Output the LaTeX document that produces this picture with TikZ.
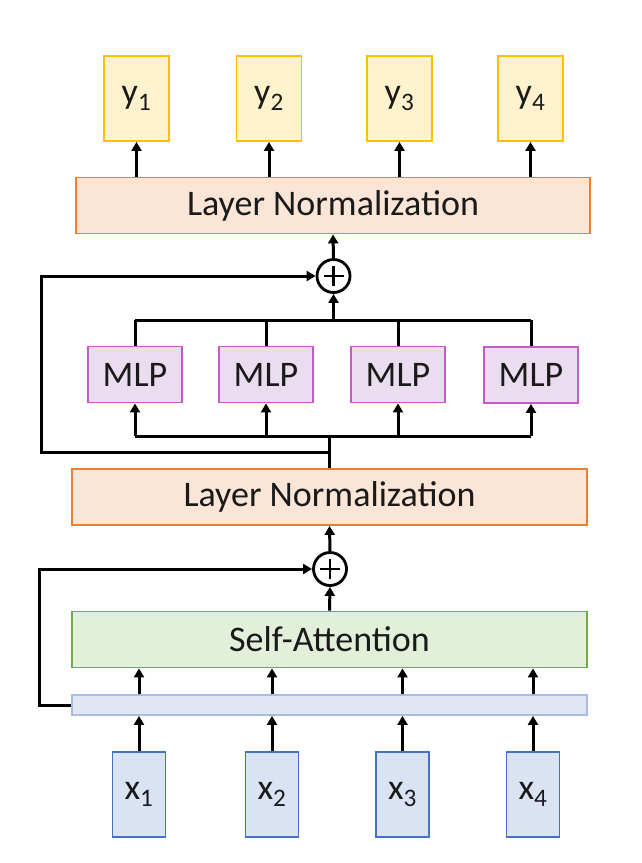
\documentclass[tikz,border=0pt]{standalone}
\usepackage{fontspec}
\setmainfont{Carlito}
\usetikzlibrary{arrows.meta}
\definecolor{yfill}{HTML}{FFF2CC}
\definecolor{yline}{HTML}{FFC000}
\definecolor{lnfill}{HTML}{FBE5D6}
\definecolor{lnline}{HTML}{ED7D31}
\definecolor{mfill}{HTML}{EBDDF0}
\definecolor{mline}{HTML}{C55AC8}
\definecolor{safill}{HTML}{E2F0D9}
\definecolor{saline}{HTML}{70AD47}
\definecolor{barfill}{HTML}{E1E6F3}
\definecolor{barline}{HTML}{A9BCE6}
\definecolor{xfill}{HTML}{DAE3F3}
\definecolor{xline}{HTML}{4472C4}
\definecolor{txt}{HTML}{1A1A1A}
\tikzset{
  box/.style={draw, line width=1.8pt, inner sep=0pt, text=txt, font=\fontsize{36}{42}\selectfont},
  ybox/.style={box, fill=yfill, draw=yline, minimum width=65pt, minimum height=85pt},
  lnbox/.style={box, fill=lnfill, draw=lnline, minimum width=514pt, minimum height=56pt},
  mlpbox/.style={box, fill=mfill, draw=mline, minimum width=94pt, minimum height=56pt},
  sabox/.style={box, fill=safill, draw=saline, minimum width=515pt, minimum height=56pt},
  barbox/.style={box, fill=barfill, draw=barline, minimum width=515pt, minimum height=20pt},
  xbox/.style={box, fill=xfill, draw=xline, minimum width=53pt, minimum height=85pt},
  sumnode/.style={circle, draw, line width=2.8pt, minimum size=33pt, inner sep=0pt,
    path picture={\draw[line width=2.8pt] ([xshift=-10pt]path picture bounding box.center) -- ([xshift=10pt]path picture bounding box.center)
      ([yshift=-10pt]path picture bounding box.center) -- ([yshift=10pt]path picture bounding box.center);}},
  conn/.style={line width=3pt},
  arr/.style={line width=3pt, -{Triangle[length=9pt,width=10pt]}},
}
\begin{document}
\begin{tikzpicture}[x=1pt,y=-1pt]
\useasboundingbox (0,0) rectangle (642,863);
% outputs
\node[ybox] (y1) at (136.5,98.5) {y\textsubscript{1}};
\node[ybox] (y2) at (269,98.5) {y\textsubscript{2}};
\node[ybox] (y3) at (399.5,98.5) {y\textsubscript{3}};
\node[ybox] (y4) at (530.5,98.5) {y\textsubscript{4}};
\node[lnbox] (ln1) at (333,205.5) {Layer Normalization};
\node[sumnode] (p1) at (333.5,276) {};
\node[mlpbox] (m1) at (135,374.5) {MLP};
\node[mlpbox] (m2) at (266,374.5) {MLP};
\node[mlpbox] (m3) at (398,374.5) {MLP};
\node[mlpbox] (m4) at (531,375) {MLP};
\node[lnbox, minimum width=515pt] (ln2) at (329.5,497) {Layer Normalization};
\node[sumnode] (p2) at (330,569) {};
\node[sabox] (sa) at (329.5,639.5) {Self-Attention};
\node[barbox] (bar) at (329.5,705) {};
\node[xbox] (x1) at (139,794.5) {x\textsubscript{1}};
\node[xbox] (x2) at (272,794.5) {x\textsubscript{2}};
\node[xbox] (x3) at (402.5,794.5) {x\textsubscript{3}};
\node[xbox] (x4) at (533,794.5) {x\textsubscript{4}};
% junction coordinates
\coordinate (topbus) at (333.5,320);
\coordinate (botbus) at (329.5,436);
\coordinate (split) at (329.5,452);
\coordinate (fb1) at (41,452);
\coordinate (fb2) at (39,705);
% inputs to bar
\foreach \i in {1,...,4}{
  \draw[arr] (x\i.north) -- (x\i.north |- bar.south);
  \draw[arr] (x\i.north |- bar.north) -- (x\i.north |- sa.south);
}
% self-attention residual
\draw[arr] (sa.north) -- (p2.south);
\draw[arr] (bar.west) -- (fb2) |- (p2.west);
\draw[arr] (p2.north) -- (ln2.south);
% MLP block
\draw[conn] (ln2.north) -- (split) -- (botbus);
\draw[conn] (m1.south |- botbus) -- (m4.south |- botbus);
\foreach \i in {1,...,4}{
  \draw[arr] (m\i.south |- botbus) -- (m\i.south);
  \draw[conn] (m\i.north) -- (m\i.north |- topbus);
}
\draw[conn] (m1.north |- topbus) -- (m4.north |- topbus);
\draw[arr] (topbus) -- (p1.south);
\draw[arr] (split) -- (fb1) |- (p1.west);
\draw[arr] (p1.north) -- (ln1.south);
% outputs
\foreach \i in {1,...,4}{
  \draw[arr] (y\i.south |- ln1.north) -- (y\i.south);
}
\end{tikzpicture}
\end{document}
